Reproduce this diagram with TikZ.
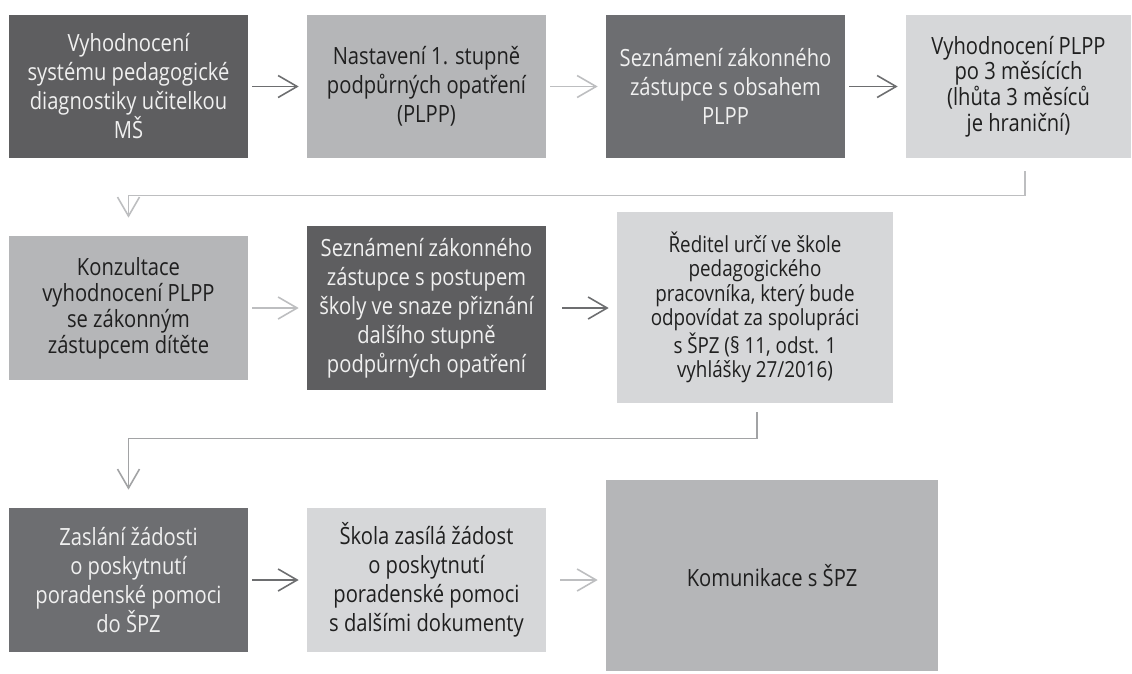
\documentclass[tikz,border=0pt]{standalone}
\usepackage{fontspec}
\setmainfont{Open Sans}[FakeStretch=0.85]
\usetikzlibrary{arrows.meta}
\definecolor{darkA}{HTML}{5E5E60}
\definecolor{darkB}{HTML}{6D6E71}
\definecolor{midgray}{HTML}{B5B6B8}
\definecolor{lightgray}{HTML}{D6D7D9}
\definecolor{arrowdark}{HTML}{6D6E70}
\definecolor{arrowlight}{HTML}{BDBEC0}
\definecolor{linemid}{HTML}{A2A3A5}

\begin{document}
\begin{tikzpicture}[x=0.02cm,y=-0.02cm,
  box/.style={inner sep=0pt, align=center, font=\fontsize{13.5}{16.5}\selectfont},
  darkbox/.style={box, fill=#1, text=white!94!black},
  lightbox/.style={box, fill=#1, text=black!88},
  go/.style={-{Straight Barb[length=0.38cm,width=0.44cm]}, line width=0.9pt, draw=#1,
    shorten <=0.08cm, shorten >=0.16cm}]
  \useasboundingbox (0,0) rectangle (1132,673);

  % first row
  \node[darkbox=darkA, minimum width=4.78cm, minimum height=2.86cm] (vyhodnoceni) at (128.5,86.5)
    {Vyhodnocení\\systému pedagogické\\diagnostiky učitelkou\\MŠ};
  \node[lightbox=midgray, minimum width=4.78cm, minimum height=2.86cm] (nastaveni) at (426.5,86.5)
    {Nastavení 1. stupně\\podpůrných opatření\\(PLPP)};
  \node[darkbox=darkB, minimum width=4.78cm, minimum height=2.86cm] (seznameni) at (725.5,86.5)
    {Seznámení zákonného\\zástupce s obsahem\\PLPP};
  \node[lightbox=lightgray, minimum width=4.5cm, minimum height=2.86cm,
    font=\fontsize{13.5}{14.6}\selectfont] (plpp) at (1018.5,86.5)
    {Vyhodnocení PLPP\\po 3 měsících\\(lhůta 3 měsíců\\je hraniční)};

  % second row
  \node[lightbox=midgray, minimum width=4.78cm, minimum height=2.88cm,
    font=\fontsize{13.5}{14.8}\selectfont] (konzultace) at (128.5,308)
    {Konzultace\\vyhodnocení PLPP\\se zákonným\\zástupcem dítěte};
  \node[darkbox=darkA, minimum width=4.78cm, minimum height=3.28cm] (postup) at (426.5,308)
    {Seznámení zákonného\\zástupce s postupem\\školy ve snaze přiznání\\dalšího stupně\\podpůrných opatření};
  \node[lightbox=lightgray, minimum width=5.52cm, minimum height=3.82cm,
    font=\fontsize{12.6}{13.9}\selectfont] (reditel) at (755,307.5)
    {Ředitel určí ve škole\\pedagogického\\pracovníka, který bude\\odpovídat za spolupráci\\s ŠPZ (§ 11, odst. 1\\vyhlášky 27/2016)};

  % third row
  \node[darkbox=darkB, minimum width=4.78cm, minimum height=2.88cm] (zaslani) at (128.5,580)
    {Zaslání žádosti\\o poskytnutí\\poradenské pomoci\\do ŠPZ};
  \node[lightbox=lightgray, minimum width=4.78cm, minimum height=2.88cm] (skola) at (426.5,580)
    {Škola zasílá žádost\\o poskytnutí\\poradenské pomoci\\s dalšími dokumenty};
  \node[lightbox=midgray, minimum width=6.64cm, minimum height=3.82cm] (komunikace) at (772,575.5)
    {Komunikace s ŠPZ};

  \draw[go=arrowdark] (vyhodnoceni) -- (nastaveni);
  \draw[go=arrowlight] (nastaveni) -- (seznameni);
  \draw[go=arrowdark] (seznameni) -- (plpp);
  \draw[go=arrowlight] (plpp.south) ++(0.13cm,-0.18cm) -- ++(0,28) -| ([yshift=0.2cm]konzultace.north);
  \draw[go=arrowlight] (konzultace) -- (postup);
  \draw[go=arrowdark, shorten <=0.32cm] (postup) -- (postup -| reditel.west);
  \draw[go=linemid] (reditel.south) ++(0.04cm,-0.1cm) -- ++(0,30) -| ([yshift=0.2cm]zaslani.north);
  \draw[go=arrowdark] (zaslani) -- (skola);
  \draw[go=arrowlight, shorten <=0.28cm] (skola) -- (skola -| komunikace.west);
\end{tikzpicture}
\end{document}
